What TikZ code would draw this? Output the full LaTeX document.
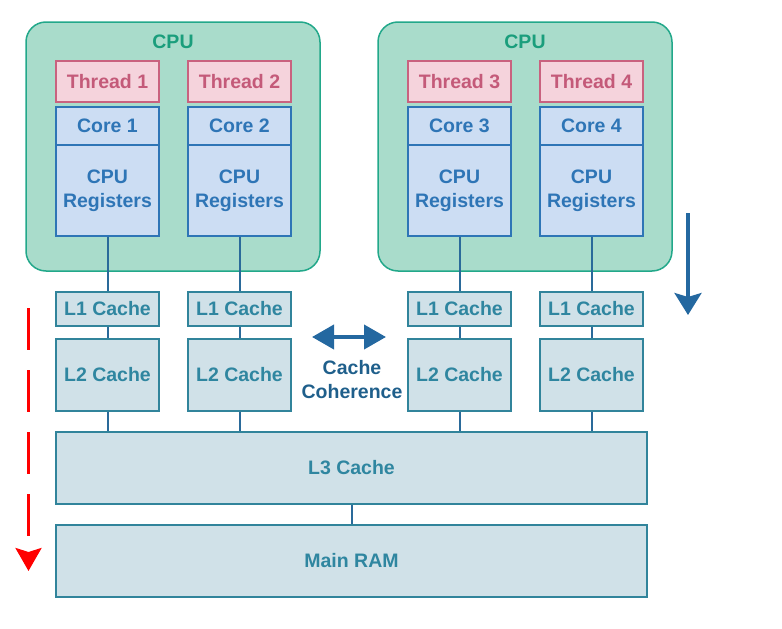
\documentclass[tikz,border=0pt]{standalone}
\usepackage{fontspec}
\setmainfont{Liberation Sans}
\usetikzlibrary{arrows.meta}
\definecolor{cpufill}{HTML}{A9DCCB}
\definecolor{cpuline}{HTML}{22A88A}
\definecolor{cputext}{HTML}{1A9E7C}
\definecolor{thfill}{HTML}{F5D3DC}
\definecolor{thline}{HTML}{C9627F}
\definecolor{thtext}{HTML}{C45A79}
\definecolor{cofill}{HTML}{CCDDF3}
\definecolor{coline}{HTML}{2E75B6}
\definecolor{cotext}{HTML}{2E75B6}
\definecolor{cafill}{HTML}{D0E1E8}
\definecolor{caline}{HTML}{31849B}
\definecolor{catext}{HTML}{2F86A0}
\definecolor{wire}{HTML}{2A6A9A}
\definecolor{darkblue}{HTML}{1F5F8B}
\definecolor{arrowblue}{HTML}{2468A0}
\begin{document}
\begin{tikzpicture}[x=1pt,y=-1pt,
  txt/.style={font=\fontsize{19.5}{24}\selectfont\bfseries, align=center, inner sep=0pt},
  cpubox/.style={draw=cpuline, fill=cpufill, line width=1.5pt, rounded corners=20pt},
  thbox/.style={txt, draw=thline, fill=thfill, text=thtext, line width=1.5pt, minimum width=103pt, minimum height=41pt},
  cobox/.style={txt, draw=coline, fill=cofill, text=cotext, line width=1.5pt, minimum width=103pt},
  cabox/.style={txt, draw=caline, fill=cafill, text=catext, line width=1.5pt},
  wireline/.style={draw=wire, line width=2pt}
]
\useasboundingbox (0,0) rectangle (782,629);
% CPU boxes
\node[cpubox, minimum width=294pt, minimum height=249pt] (cpuA) at (173,146.5) {};
\node[cpubox, minimum width=294pt, minimum height=249pt] (cpuB) at (525,146.5) {};
\node[txt, text=cputext] (cpuAl) at (173,42) {CPU};
\node[txt, text=cputext] (cpuBl) at (525,42) {CPU};
% columns
\foreach \n/\x in {1/107.5,2/239.5,3/459.5,4/591.5}{
  \node[thbox] (th\n) at (\x,81.5) {Thread \n};
  \node[cobox, minimum height=38pt] (co\n) at (\x,126) {Core \n};
  \node[cobox, minimum height=91pt] (rg\n) at (\x,190.5) {CPU\\Registers};
  \node[cabox, minimum width=103pt, minimum height=34pt] (la\n) at (\x,309) {L1 Cache};
  \node[cabox, minimum width=103pt, minimum height=72pt] (lb\n) at (\x,375) {L2 Cache};
}
\node[cabox, minimum width=591pt, minimum height=72pt] (l3) at (351.5,468) {L3 Cache};
\node[cabox, minimum width=591pt, minimum height=72pt] (ram) at (351.5,561) {Main RAM};
% connectors
\foreach \n in {1,2,3,4}{
  \draw[wireline] (rg\n.south) -- (la\n.north);
  \draw[wireline] (la\n.south) -- (lb\n.north);
  \draw[wireline] (lb\n.south) -- (lb\n.south |- l3.north);
}
\draw[wireline] (l3.south) -- (ram.north);
% cache coherence
\coordinate (ccL) at (312,337);
\coordinate (ccR) at (386,337);
\draw[arrowblue, line width=4pt, {Triangle[width=24pt,length=22pt]}-{Triangle[width=24pt,length=22pt]}] (ccL) -- (ccR);
\node[txt, text=darkblue] (cc) at (352,380) {Cache\\Coherence};
% blue down arrow
\coordinate (baS) at (688,213);
\coordinate (baE) at (688,315);
\draw[arrowblue, line width=3.5pt, -{Stealth[width=27pt,length=22pt,inset=4pt]}] (baS) -- (baE);
% red dashed arrow
\coordinate (raS) at (28.5,308);
\coordinate (raE) at (28.5,571);
\draw[red, line width=3pt, dash pattern=on 42pt off 20pt, -{Stealth[width=26pt,length=23pt,inset=4pt]}] (raS) -- (raE);
\end{tikzpicture}
\end{document}
